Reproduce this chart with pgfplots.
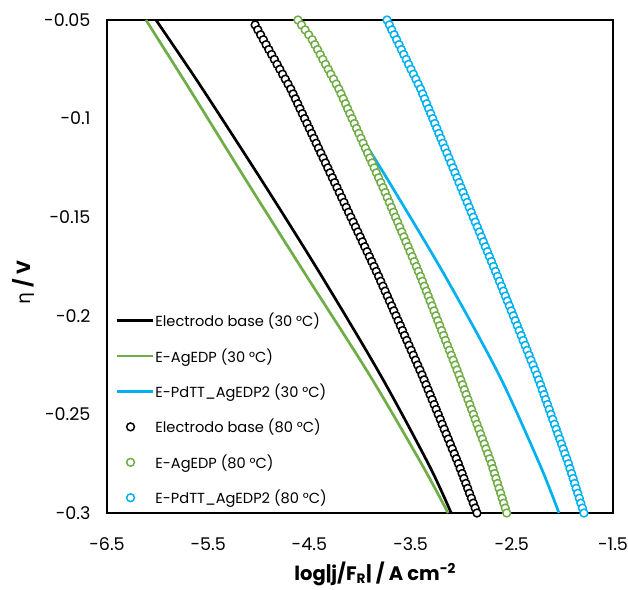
\documentclass[border=0pt]{standalone}
\usepackage{fontspec}
\setmainfont{Poppins}
\newfontfamily\etafont{DejaVu Sans}
\usepackage{pgfplots}
\pgfplotsset{compat=1.18}
\definecolor{cgreen}{HTML}{70AD47}
\definecolor{cblue}{HTML}{00B0F0}
\newcommand{\tickfont}{\fontsize{17.5}{20}\selectfont}
\pgfplotsset{
  longline/.style={legend image code/.code={\draw[##1] (0pt,0pt) -- (36pt,0pt);}},
  ringleg/.style={legend image code/.code={\path (0pt,0pt) (36pt,0pt);\draw[##1, mark indices={2}] plot coordinates {(0pt,0pt) (14pt,0pt) (36pt,0pt)};}},
  ring/.style={only marks, mark=*, mark size=3.9pt, mark options={fill=white, draw=#1, line width=1.5pt}, ringleg},
}
\begin{document}
\begin{tikzpicture}
\useasboundingbox (-107pt,-76pt) rectangle (521pt,513pt);
\begin{axis}[
  at={(0pt,0pt)}, anchor=south west,
  scale only axis, width=506pt, height=493pt,
  xmin=-6.5, xmax=-1.5, ymin=-0.3, ymax=-0.05,
  xtick={-6.5,-5.5,-4.5,-3.5,-2.5,-1.5},
  ytick={-0.3,-0.25,-0.2,-0.15,-0.1,-0.05},
  major tick length=0pt,
  axis line style={line width=1.8pt},
  xticklabel style={yshift=-21pt, font=\tickfont},
  yticklabel style={xshift=-13pt, font=\tickfont},
  xticklabel={\tickfont\pgfmathprintnumber[fixed,precision=1,assume math mode=true]{\tick}},
  yticklabel={\tickfont\pgfmathprintnumber[fixed,precision=2,assume math mode=true]{\tick}},
  xlabel={\bfseries log|j/F\textsubscript{R}| / A cm\textsuperscript{-2}},
  ylabel={{\etafont η} \bfseries / V},
  every axis x label/.style={at={(axis description cs:0.53,0)}, anchor=center, yshift=-61pt, font=\fontsize{19.5}{22}\selectfont},
  every axis y label/.style={at={(axis description cs:0,0.467)}, anchor=center, xshift=-84pt, rotate=90, font=\fontsize{19}{22}\selectfont},
  clip=false,
  legend cell align=left,
  legend style={at={(axis description cs:0,0)}, anchor=south west, xshift=8pt, yshift=6pt,
    draw=none, fill=none, font=\fontsize{14.6}{17}\selectfont, row sep=17.3pt, inner sep=0pt,
    nodes={inner sep=1.5pt}},
]
\addplot[black, line width=2.7pt, longline, smooth] coordinates {
(-6.016,-0.05) (-5.581,-0.083) (-4.942,-0.1337) (-4.386,-0.1793) (-3.798,-0.23) (-3.318,-0.2757) (-3.099,-0.30)};
\addlegendentry{Electrodo base (30 °C)}
\addplot[cgreen, line width=2.7pt, longline, smooth] coordinates {
(-6.115,-0.05) (-5.709,-0.083) (-5.096,-0.1337) (-4.535,-0.1793) (-3.906,-0.23) (-3.385,-0.2757) (-3.13,-0.30)};
\addlegendentry{E-AgEDP (30 °C)}
\addplot[cblue, line width=2.7pt, longline, smooth] coordinates {
(-4.633,-0.05) (-4.492,-0.06) (-4.229,-0.085) (-4.098,-0.10) (-3.864,-0.1195) (-3.694,-0.1337) (-3.165,-0.1793) (-2.626,-0.23) (-2.221,-0.2757) (-2.034,-0.30)};
\addlegendentry{E-PdTT\_AgEDP2 (30 °C)}
\addplot[ring=black] coordinates {
(-5.036,-0.0525) (-5.009,-0.0550) (-4.982,-0.0575) (-4.955,-0.0600) (-4.928,-0.0625) (-4.901,-0.0650) (-4.873,-0.0675) (-4.846,-0.0700) (-4.819,-0.0725) (-4.792,-0.0750)
(-4.765,-0.0775) (-4.738,-0.0800) (-4.711,-0.0825) (-4.684,-0.0850) (-4.661,-0.0875) (-4.638,-0.0900) (-4.615,-0.0925) (-4.593,-0.0950) (-4.570,-0.0975) (-4.547,-0.1000)
(-4.524,-0.1025) (-4.501,-0.1050) (-4.478,-0.1075) (-4.455,-0.1100) (-4.433,-0.1125) (-4.410,-0.1150) (-4.387,-0.1175) (-4.364,-0.1200) (-4.341,-0.1225) (-4.318,-0.1250)
(-4.296,-0.1275) (-4.273,-0.1300) (-4.250,-0.1325) (-4.227,-0.1350) (-4.204,-0.1375) (-4.181,-0.1400) (-4.158,-0.1425) (-4.136,-0.1450) (-4.113,-0.1475) (-4.090,-0.1500)
(-4.067,-0.1525) (-4.044,-0.1550) (-4.021,-0.1575) (-3.998,-0.1600) (-3.976,-0.1625) (-3.953,-0.1650) (-3.930,-0.1675) (-3.907,-0.1700) (-3.884,-0.1725) (-3.861,-0.1750)
(-3.839,-0.1775) (-3.816,-0.1800) (-3.795,-0.1825) (-3.773,-0.1850) (-3.752,-0.1875) (-3.730,-0.1900) (-3.709,-0.1925) (-3.687,-0.1950) (-3.666,-0.1975) (-3.644,-0.2000)
(-3.623,-0.2025) (-3.601,-0.2050) (-3.580,-0.2075) (-3.559,-0.2100) (-3.537,-0.2125) (-3.516,-0.2150) (-3.494,-0.2175) (-3.473,-0.2200) (-3.451,-0.2225) (-3.430,-0.2250)
(-3.408,-0.2275) (-3.387,-0.2300) (-3.367,-0.2325) (-3.347,-0.2350) (-3.327,-0.2375) (-3.307,-0.2400) (-3.287,-0.2425) (-3.267,-0.2450) (-3.247,-0.2475) (-3.227,-0.2500)
(-3.207,-0.2525) (-3.188,-0.2550) (-3.168,-0.2575) (-3.148,-0.2600) (-3.128,-0.2625) (-3.108,-0.2650) (-3.088,-0.2675) (-3.068,-0.2700) (-3.048,-0.2725) (-3.028,-0.2750)
(-3.010,-0.2775) (-2.991,-0.2800) (-2.973,-0.2825) (-2.954,-0.2850) (-2.936,-0.2875) (-2.918,-0.2900) (-2.899,-0.2925) (-2.881,-0.2950) (-2.862,-0.2975) (-2.844,-0.3000)};
\addlegendentry{Electrodo base (80 °C)}
\addplot[ring=cgreen] coordinates {
(-4.613,-0.0500) (-4.578,-0.0525) (-4.542,-0.0550) (-4.507,-0.0575) (-4.472,-0.0600) (-4.446,-0.0625) (-4.419,-0.0650) (-4.393,-0.0675) (-4.367,-0.0700) (-4.340,-0.0725)
(-4.314,-0.0750) (-4.288,-0.0775) (-4.261,-0.0800) (-4.235,-0.0825) (-4.209,-0.0850) (-4.187,-0.0875) (-4.165,-0.0900) (-4.143,-0.0925) (-4.122,-0.0950) (-4.100,-0.0975)
(-4.078,-0.1000) (-4.056,-0.1025) (-4.034,-0.1050) (-4.012,-0.1075) (-3.990,-0.1100) (-3.969,-0.1125) (-3.947,-0.1150) (-3.925,-0.1175) (-3.903,-0.1200) (-3.881,-0.1225)
(-3.859,-0.1250) (-3.838,-0.1275) (-3.816,-0.1300) (-3.794,-0.1325) (-3.772,-0.1350) (-3.751,-0.1375) (-3.731,-0.1400) (-3.710,-0.1425) (-3.690,-0.1450) (-3.669,-0.1475)
(-3.649,-0.1500) (-3.628,-0.1525) (-3.608,-0.1550) (-3.587,-0.1575) (-3.566,-0.1600) (-3.546,-0.1625) (-3.525,-0.1650) (-3.505,-0.1675) (-3.484,-0.1700) (-3.464,-0.1725)
(-3.443,-0.1750) (-3.423,-0.1775) (-3.402,-0.1800) (-3.383,-0.1825) (-3.364,-0.1850) (-3.345,-0.1875) (-3.326,-0.1900) (-3.307,-0.1925) (-3.288,-0.1950) (-3.269,-0.1975)
(-3.250,-0.2000) (-3.231,-0.2025) (-3.212,-0.2050) (-3.193,-0.2075) (-3.174,-0.2100) (-3.155,-0.2125) (-3.136,-0.2150) (-3.117,-0.2175) (-3.098,-0.2200) (-3.079,-0.2225)
(-3.060,-0.2250) (-3.041,-0.2275) (-3.022,-0.2300) (-3.004,-0.2325) (-2.986,-0.2350) (-2.969,-0.2375) (-2.951,-0.2400) (-2.933,-0.2425) (-2.915,-0.2450) (-2.897,-0.2475)
(-2.879,-0.2500) (-2.862,-0.2525) (-2.844,-0.2550) (-2.826,-0.2575) (-2.808,-0.2600) (-2.790,-0.2625) (-2.772,-0.2650) (-2.755,-0.2675) (-2.737,-0.2700) (-2.719,-0.2725)
(-2.701,-0.2750) (-2.686,-0.2775) (-2.671,-0.2800) (-2.656,-0.2825) (-2.641,-0.2850) (-2.626,-0.2875) (-2.610,-0.2900) (-2.595,-0.2925) (-2.580,-0.2950) (-2.565,-0.2975)
(-2.550,-0.3000)};
\addlegendentry{E-AgEDP (80 °C)}
\addplot[ring=cblue] coordinates {
(-3.733,-0.0500) (-3.709,-0.0525) (-3.686,-0.0550) (-3.662,-0.0575) (-3.638,-0.0600) (-3.614,-0.0625) (-3.591,-0.0650) (-3.567,-0.0675) (-3.543,-0.0700) (-3.520,-0.0725)
(-3.496,-0.0750) (-3.472,-0.0775) (-3.448,-0.0800) (-3.425,-0.0825) (-3.401,-0.0850) (-3.381,-0.0875) (-3.361,-0.0900) (-3.341,-0.0925) (-3.321,-0.0950) (-3.301,-0.0975)
(-3.281,-0.1000) (-3.261,-0.1025) (-3.241,-0.1050) (-3.221,-0.1075) (-3.201,-0.1100) (-3.181,-0.1125) (-3.161,-0.1150) (-3.141,-0.1175) (-3.121,-0.1200) (-3.101,-0.1225)
(-3.081,-0.1250) (-3.061,-0.1275) (-3.041,-0.1300) (-3.021,-0.1325) (-3.001,-0.1350) (-2.981,-0.1375) (-2.961,-0.1400) (-2.941,-0.1425) (-2.921,-0.1450) (-2.901,-0.1475)
(-2.881,-0.1500) (-2.861,-0.1525) (-2.841,-0.1550) (-2.821,-0.1575) (-2.801,-0.1600) (-2.781,-0.1625) (-2.761,-0.1650) (-2.741,-0.1675) (-2.721,-0.1700) (-2.701,-0.1725)
(-2.681,-0.1750) (-2.661,-0.1775) (-2.641,-0.1800) (-2.622,-0.1825) (-2.602,-0.1850) (-2.583,-0.1875) (-2.563,-0.1900) (-2.544,-0.1925) (-2.524,-0.1950) (-2.505,-0.1975)
(-2.485,-0.2000) (-2.466,-0.2025) (-2.446,-0.2050) (-2.427,-0.2075) (-2.407,-0.2100) (-2.388,-0.2125) (-2.368,-0.2150) (-2.349,-0.2175) (-2.329,-0.2200) (-2.310,-0.2225)
(-2.290,-0.2250) (-2.271,-0.2275) (-2.251,-0.2300) (-2.234,-0.2325) (-2.216,-0.2350) (-2.199,-0.2375) (-2.182,-0.2400) (-2.165,-0.2425) (-2.147,-0.2450) (-2.130,-0.2475)
(-2.113,-0.2500) (-2.096,-0.2525) (-2.078,-0.2550) (-2.061,-0.2575) (-2.044,-0.2600) (-2.026,-0.2625) (-2.009,-0.2650) (-1.992,-0.2675) (-1.975,-0.2700) (-1.957,-0.2725)
(-1.940,-0.2750) (-1.925,-0.2775) (-1.909,-0.2800) (-1.894,-0.2825) (-1.879,-0.2850) (-1.864,-0.2875) (-1.848,-0.2900) (-1.833,-0.2925) (-1.818,-0.2950) (-1.802,-0.2975)
(-1.787,-0.3000)};
\addlegendentry{E-PdTT\_AgEDP2 (80 °C)}
\end{axis}
\end{tikzpicture}
\end{document}
